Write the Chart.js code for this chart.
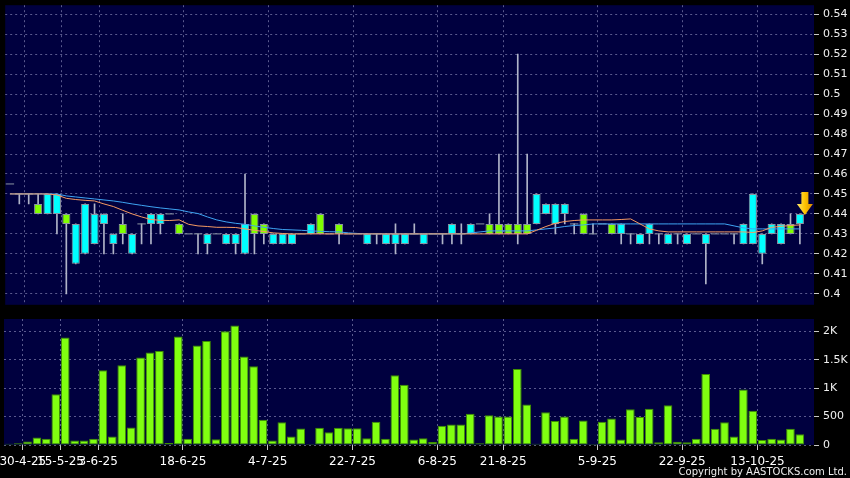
<!DOCTYPE html>
<html>
<head>
<meta charset="utf-8">
<script src="https://cdn.jsdelivr.net/npm/chart.js@4.4.0/dist/chart.umd.min.js"></script>
<style>
  html, body { margin: 0; padding: 0; background: #000; }
  #wrap { position: relative; width: 850px; height: 478px; background: #000; overflow: hidden; }
  #price { position: absolute; left: 0; top: 0; }
  #vol { position: absolute; left: 0; top: 310px; }
</style>
</head>
<body>
<div id="wrap">
  <canvas id="price" width="850" height="310"></canvas>
  <canvas id="vol" width="850" height="168"></canvas>
</div>
<script>
// daily OHLC, one entry per trading slot
const opens = [
  0.455, 0.45, 0.45, 0.44, 0.45, 0.45, 0.435, 0.435, 0.445, 0.44,
  0.44, 0.43, 0.43, 0.43, 0.435, 0.44, 0.44, 0.44, 0.43, 0.43,
  0.43, 0.43, 0.43, 0.43, 0.43, 0.435, 0.43, 0.43, 0.43, 0.43,
  0.43, 0.43, 0.435, 0.43, 0.43, 0.43, 0.43, 0.43, 0.43, 0.43,
  0.43, 0.43, 0.43, 0.43, 0.43, 0.43, 0.43, 0.435, 0.43, 0.435,
  0.435, 0.43, 0.43, 0.43, 0.43, 0.43, 0.45, 0.445, 0.445, 0.445,
  0.435, 0.43, 0.43, 0.435, 0.43, 0.435, 0.43, 0.43, 0.435, 0.43,
  0.43, 0.43, 0.43, 0.43, 0.43, 0.43, 0.43, 0.43, 0.435, 0.45,
  0.43, 0.435, 0.435, 0.43, 0.44
];
const highs = [
  0.455, 0.45, 0.45, 0.45, 0.45, 0.45, 0.44, 0.435, 0.445, 0.445,
  0.44, 0.43, 0.44, 0.43, 0.435, 0.44, 0.44, 0.44, 0.435, 0.43,
  0.43, 0.43, 0.43, 0.43, 0.43, 0.46, 0.44, 0.435, 0.43, 0.43,
  0.43, 0.43, 0.435, 0.44, 0.43, 0.435, 0.43, 0.43, 0.43, 0.43,
  0.43, 0.435, 0.43, 0.435, 0.43, 0.43, 0.43, 0.435, 0.435, 0.435,
  0.435, 0.44, 0.47, 0.435, 0.52, 0.47, 0.45, 0.445, 0.445, 0.445,
  0.435, 0.44, 0.435, 0.435, 0.435, 0.435, 0.43, 0.43, 0.435, 0.43,
  0.43, 0.43, 0.43, 0.43, 0.43, 0.43, 0.43, 0.43, 0.435, 0.45,
  0.43, 0.435, 0.435, 0.44, 0.44
];
const lows = [
  0.455, 0.445, 0.445, 0.44, 0.44, 0.43, 0.40, 0.415, 0.42, 0.425,
  0.42, 0.42, 0.425, 0.42, 0.425, 0.425, 0.43, 0.44, 0.43, 0.43,
  0.42, 0.42, 0.43, 0.425, 0.42, 0.42, 0.42, 0.425, 0.425, 0.425,
  0.425, 0.43, 0.43, 0.43, 0.43, 0.425, 0.43, 0.43, 0.425, 0.425,
  0.425, 0.42, 0.425, 0.43, 0.425, 0.43, 0.425, 0.425, 0.425, 0.43,
  0.435, 0.43, 0.43, 0.43, 0.425, 0.43, 0.435, 0.44, 0.43, 0.435,
  0.43, 0.43, 0.43, 0.435, 0.43, 0.425, 0.425, 0.425, 0.425, 0.425,
  0.425, 0.425, 0.425, 0.43, 0.405, 0.43, 0.43, 0.425, 0.425, 0.425,
  0.415, 0.43, 0.425, 0.43, 0.425
];
const closes = [
  0.455, 0.45, 0.45, 0.445, 0.44, 0.44, 0.44, 0.415, 0.42, 0.425,
  0.435, 0.425, 0.435, 0.42, 0.435, 0.435, 0.435, 0.44, 0.435, 0.43,
  0.43, 0.425, 0.43, 0.425, 0.425, 0.42, 0.44, 0.435, 0.425, 0.425,
  0.425, 0.43, 0.43, 0.44, 0.43, 0.435, 0.43, 0.43, 0.425, 0.43,
  0.425, 0.425, 0.425, 0.43, 0.425, 0.43, 0.43, 0.43, 0.43, 0.43,
  0.435, 0.435, 0.435, 0.435, 0.435, 0.435, 0.435, 0.44, 0.435, 0.44,
  0.435, 0.44, 0.43, 0.435, 0.435, 0.43, 0.43, 0.425, 0.43, 0.43,
  0.425, 0.43, 0.425, 0.43, 0.425, 0.43, 0.43, 0.43, 0.425, 0.425,
  0.42, 0.43, 0.425, 0.435, 0.435
];
// moving averages as drawn (orange = short, blue = long)
const maShort = [
  0.450, 0.450, 0.450, 0.450, 0.450, 0.4495, 0.4478, 0.4472, 0.4468, 0.4465,
  0.445, 0.4437, 0.4418, 0.440, 0.4385, 0.4372, 0.4368, 0.4367, 0.437, 0.4348,
  0.434, 0.4337, 0.4333, 0.4333, 0.4332, 0.4325, 0.4318, 0.4312, 0.4305, 0.4302,
  0.430, 0.430, 0.430, 0.430, 0.430, 0.430, 0.430, 0.430, 0.430, 0.430,
  0.430, 0.430, 0.430, 0.430, 0.430, 0.430, 0.430, 0.430, 0.430, 0.430,
  0.430, 0.430, 0.430, 0.430, 0.430, 0.430, 0.4318, 0.4337, 0.4353, 0.4362,
  0.4367, 0.437, 0.437, 0.437, 0.437, 0.4372, 0.4375, 0.435, 0.4325, 0.4315,
  0.431, 0.431, 0.431, 0.431, 0.431, 0.431, 0.431, 0.431, 0.431, 0.4307,
  0.4315, 0.4333, 0.4338, 0.4342, 0.4345
];
const maLong = [
  0.450, 0.450, 0.450, 0.450, 0.450, 0.450, 0.449, 0.4485, 0.448, 0.4475,
  0.447, 0.4465, 0.4458, 0.445, 0.4443, 0.4436, 0.443, 0.4425, 0.442, 0.441,
  0.4402, 0.4385, 0.437, 0.436, 0.4353, 0.4348, 0.434, 0.4333, 0.4327, 0.4322,
  0.432, 0.4318, 0.4315, 0.4313, 0.4311, 0.431, 0.4305, 0.4302, 0.430, 0.430,
  0.430, 0.430, 0.430, 0.430, 0.430, 0.430, 0.430, 0.430, 0.430, 0.4305,
  0.431, 0.4315, 0.4315, 0.4315, 0.4315, 0.4315, 0.432, 0.4325, 0.433, 0.4337,
  0.4342, 0.4345, 0.435, 0.435, 0.435, 0.435, 0.435, 0.435, 0.435, 0.435,
  0.435, 0.435, 0.435, 0.435, 0.435, 0.435, 0.435, 0.434, 0.433, 0.4325,
  0.4325, 0.4325, 0.4325, 0.4325, 0.4325
];
const volumes = [
  20, 30, 60, 130, 110, 890, 1890, 77, 77, 110,
  1314, 148, 1402, 308, 1539, 1627, 1651, 36, 1906, 112,
  1751, 1829, 100, 2000, 2100, 1556, 1385, 444, 77, 402,
  148, 290, 18, 302, 225, 302, 296, 296, 118, 408,
  112, 1225, 1059, 95, 118, 53, 337, 361, 361, 550,
  30, 521, 503, 503, 1337, 710, 24, 574, 420, 503,
  112, 432, 18, 408, 467, 95, 627, 491, 639, 47,
  698, 59, 47, 112, 1248, 284, 402, 148, 976, 604,
  89, 112, 95, 284, 189
];
// date labels sit on the boundary after these slots
const dateSlots = [1, 5, 9, 18, 27, 36, 45, 52, 62, 71, 79];
const dateLabels = ['30-4-25', '15-5-25', '3-6-25', '18-6-25', '4-7-25', '22-7-25',
  '6-8-25', '21-8-25', '5-9-25', '22-9-25', '13-10-25'];
const priceTicks = [0.40, 0.41, 0.42, 0.43, 0.44, 0.45, 0.46, 0.47, 0.48, 0.49, 0.50, 0.51, 0.52, 0.53, 0.54];
const volTicks = [0, 500, 1000, 1500, 2000];
const volTickLabels = ['0', '500', '1K', '1.5K', '2K'];
const arrowSlot = 84;
const arrowPrice = 0.44;

Chart.defaults.font.family = "'DejaVu Sans', Verdana, sans-serif";
Chart.defaults.color = '#f2f2f2';

const slots = opens.map((_, i) => i);
const UP = '#80ff00', DOWN = '#00ffff', EDGE = '#8b95a3', WICK = '#b0b4c8';
const GRID = 'rgba(150,150,195,0.6)';

const candleIdx = slots.filter(i => opens[i] !== closes[i]);
const dojiIdx = slots.filter(i => opens[i] === closes[i]);
const wickIdx = slots.filter(i => highs[i] > lows[i]);

const panelBg = {
  id: 'panelBg',
  beforeDraw(chart) {
    const { ctx, chartArea: a } = chart;
    ctx.save();
    ctx.fillStyle = '#000';
    ctx.fillRect(0, 0, chart.width, chart.height);
    ctx.fillStyle = '#00003f';
    ctx.fillRect(a.left, a.top, a.right - a.left, a.bottom - a.top);
    ctx.restore();
  }
};

const arrowMark = {
  id: 'arrowMark',
  afterDatasetsDraw(chart) {
    const { ctx, scales: { x, y } } = chart;
    const cx = x.getPixelForValue(arrowSlot) + 5;
    const tip = y.getPixelForValue(arrowPrice) + 1;
    const g = ctx.createLinearGradient(cx - 8, 0, cx + 8, 0);
    g.addColorStop(0, '#ffe86a');
    g.addColorStop(0.5, '#ffc400');
    g.addColorStop(1, '#d88a00');
    ctx.save();
    ctx.fillStyle = g;
    ctx.beginPath();
    ctx.moveTo(cx - 3.5, tip - 23);
    ctx.lineTo(cx + 3.5, tip - 23);
    ctx.lineTo(cx + 3.5, tip - 11);
    ctx.lineTo(cx + 8, tip - 11);
    ctx.lineTo(cx, tip);
    ctx.lineTo(cx - 8, tip - 11);
    ctx.lineTo(cx - 3.5, tip - 11);
    ctx.closePath();
    ctx.fill();
    ctx.restore();
  }
};

const copyright = {
  id: 'copyright',
  afterDraw(chart) {
    const { ctx } = chart;
    ctx.save();
    ctx.font = "10px 'DejaVu Sans'";
    ctx.fillStyle = '#eeeeee';
    ctx.textAlign = 'right';
    ctx.textBaseline = 'alphabetic';
    ctx.fillText('Copyright by AASTOCKS.com Ltd.', 847, 165);
    ctx.restore();
  }
};

function xScale(showLabels) {
  return {
    type: 'linear',
    min: -0.5,
    max: 85.5,
    offset: false,
    afterBuildTicks: s => { s.ticks = dateSlots.map(k => ({ value: k + 0.5 })); },
    afterFit: s => {
      s.height = showLabels ? 25 : 0;
      s.paddingLeft = 0;
      s.paddingRight = 0;
    },
    grid: {
      offset: false,
      color: GRID,
      drawTicks: showLabels,
      tickLength: 5,
      tickColor: '#c8c8c8'
    },
    border: { display: false, dash: [2, 3] },
    ticks: {
      display: showLabels,
      autoSkip: false,
      maxRotation: 0,
      padding: 5,
      color: '#ffffff',
      font: { size: 12 },
      callback: (v, i) => dateLabels[i]
    }
  };
}

function yScale(min, max, ticks, labelFn) {
  return {
    position: 'right',
    min, max,
    afterBuildTicks: s => { s.ticks = ticks.map(v => ({ value: v })); },
    afterFit: s => {
      s.width = 36;
      s.paddingTop = 0;
      s.paddingBottom = 0;
    },
    grid: { color: GRID, tickLength: 5, tickColor: '#c8c8c8' },
    border: { display: false, dash: [2, 3] },
    ticks: { autoSkip: false, padding: 4, font: { size: 11 }, color: '#f0f0f0', callback: labelFn }
  };
}

new Chart(document.getElementById('price'), {
  type: 'bar',
  data: {
    datasets: [
      {
        type: 'line', label: 'MA short', order: 0,
        data: slots.map(i => ({ x: i, y: maShort[i] })),
        borderColor: '#f59a62', borderWidth: 1, pointRadius: 0, tension: 0
      },
      {
        type: 'line', label: 'MA long', order: 0,
        data: slots.map(i => ({ x: i, y: maLong[i] })),
        borderColor: '#3ea4f2', borderWidth: 1, pointRadius: 0, tension: 0
      },
      {
        label: 'body', order: 1, grouped: false,
        data: candleIdx.map(i => ({ x: i, y: [opens[i], closes[i]] })),
        backgroundColor: candleIdx.map(i => closes[i] > opens[i] ? UP : DOWN),
        borderColor: EDGE, borderWidth: 1, borderSkipped: false,
        barPercentage: 0.86, categoryPercentage: 1
      },
      {
        type: 'line', label: 'doji', order: 1, showLine: false,
        data: dojiIdx.map(i => ({ x: i, y: closes[i] })),
        pointStyle: 'line', pointRadius: 4.2, pointBorderColor: EDGE, pointBorderWidth: 1
      },
      {
        label: 'wick', order: 2, grouped: false,
        data: wickIdx.map(i => ({ x: i, y: [lows[i], highs[i]] })),
        backgroundColor: WICK, barThickness: 1
      }
    ]
  },
  options: {
    responsive: false,
    animation: false,
    devicePixelRatio: 1,
    layout: { padding: { left: 4, top: 5, right: 0, bottom: 5 } },
    plugins: { legend: { display: false }, tooltip: { enabled: false } },
    scales: {
      x: xScale(false),
      y: yScale(0.3945, 0.5445, priceTicks, v => String(+v.toFixed(2)))
    }
  },
  plugins: [panelBg, arrowMark]
});

new Chart(document.getElementById('vol'), {
  type: 'bar',
  data: {
    datasets: [{
      label: 'volume',
      data: slots.map(i => ({ x: i, y: volumes[i] })),
      backgroundColor: '#80ff10',
      borderColor: '#3f8f00',
      borderWidth: 1,
      borderSkipped: false,
      barPercentage: 0.92,
      categoryPercentage: 1
    }]
  },
  options: {
    responsive: false,
    animation: false,
    devicePixelRatio: 1,
    layout: { padding: { left: 4, top: 9, right: 0, bottom: 8 } },
    plugins: { legend: { display: false }, tooltip: { enabled: false } },
    scales: {
      x: xScale(true),
      y: yScale(0, 2215, volTicks, (v, i) => volTickLabels[i])
    }
  },
  plugins: [panelBg, copyright]
});
</script>
</body>
</html>
